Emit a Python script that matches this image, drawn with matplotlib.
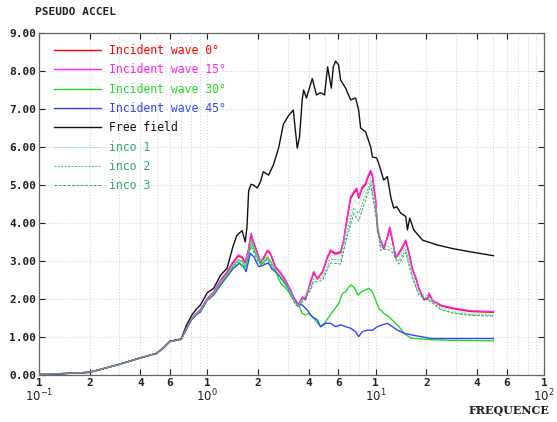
import matplotlib
matplotlib.use('Agg')
import matplotlib.pyplot as plt

# frequences (Hz) et pseudo-accelerations
f_free = [0.1, 0.13, 0.2, 0.3, 0.4, 0.5, 0.55, 0.6, 0.7, 0.75, 0.81, 0.86, 0.91, 1.0, 1.09, 1.2,
          1.31, 1.42, 1.5, 1.61, 1.68, 1.72, 1.76, 1.82, 1.88, 1.98, 2.07, 2.15, 2.31, 2.47, 2.65,
          2.83, 3.03, 3.24, 3.42, 3.53, 3.66, 3.73, 3.88, 4.20, 4.45, 4.71, 4.97, 5.18, 5.45, 5.60,
          5.78, 6.02, 6.19, 6.63, 7.10, 7.60, 7.92, 8.14, 8.71, 9.34, 9.56, 10.14, 10.42, 11.16,
          11.74, 12.28, 12.80, 13.34, 14.09, 15.09, 15.44, 15.93, 16.83, 18.96, 23.3, 29.1, 36.7, 50]
free_field = [0.02, 0.03, 0.07, 0.28, 0.45, 0.57, 0.72, 0.89, 0.95, 1.30, 1.58, 1.73, 1.84, 2.17,
              2.28, 2.63, 2.81, 3.38, 3.68, 3.80, 3.50, 3.90, 4.85, 5.02, 5.00, 4.92, 5.09, 5.35,
              5.26, 5.53, 5.97, 6.60, 6.82, 6.97, 5.97, 6.27, 7.24, 7.50, 7.29, 7.80, 7.37, 7.43,
              7.37, 8.11, 7.55, 8.11, 8.26, 8.16, 7.76, 7.55, 7.24, 7.29, 6.97, 6.50, 6.40, 6.00,
              5.74, 5.71, 5.57, 5.13, 5.22, 4.69, 4.39, 4.43, 4.26, 4.17, 3.82, 4.13, 3.82, 3.55,
              3.42, 3.32, 3.24, 3.14]

f_inc = [0.1, 0.13, 0.2, 0.3, 0.4, 0.5, 0.55, 0.6, 0.7, 0.75, 0.81, 0.86, 0.91, 1.0, 1.09, 1.2,
         1.31, 1.42, 1.53, 1.61, 1.68, 1.75, 1.82, 1.88, 1.98, 2.07, 2.15, 2.28, 2.37, 2.54, 2.72,
         2.91, 3.12, 3.34, 3.48, 3.66, 3.83, 4.10, 4.28, 4.50, 4.82, 5.16, 5.40, 5.78, 6.19, 6.45,
         6.78, 7.10, 7.40, 7.71, 7.92, 8.33, 8.71, 8.96, 9.34, 9.56, 10.0, 10.28, 10.71, 11.16,
         11.74, 12.12, 12.58, 13.15, 13.71, 14.42, 15.09, 15.65, 16.52, 17.30, 18.03, 19.31,
         20.32, 20.69, 21.76, 24.4, 29.1, 36.7, 50]
inc_15 = [0.02, 0.03, 0.07, 0.28, 0.45, 0.57, 0.72, 0.88, 0.94, 1.22, 1.50, 1.62, 1.72, 2.02,
          2.19, 2.50, 2.72, 2.98, 3.16, 3.11, 2.98, 3.29, 3.73, 3.51, 3.24, 2.98, 3.08, 3.29,
          3.21, 2.85, 2.70, 2.50, 2.24, 1.93, 1.82, 2.06, 2.00, 2.46, 2.72, 2.55, 2.72, 3.11,
          3.29, 3.21, 3.25, 3.55, 4.17, 4.69, 4.82, 4.92, 4.69, 4.96, 5.05, 5.22, 5.39, 5.26,
          4.60, 3.82, 3.55, 3.35, 3.64, 3.90, 3.55, 3.11, 3.21, 3.38, 3.55, 3.29, 2.80, 2.57,
          2.30, 2.00, 2.02, 2.16, 1.97, 1.84, 1.76, 1.69, 1.67]
inc_0 = [0.02, 0.03, 0.07, 0.28, 0.45, 0.57, 0.72, 0.88, 0.94, 1.21, 1.49, 1.61, 1.71, 2.01,
         2.17, 2.48, 2.70, 2.95, 3.13, 3.08, 2.95, 3.26, 3.68, 3.48, 3.21, 2.96, 3.05, 3.26,
         3.18, 2.83, 2.68, 2.48, 2.22, 1.92, 1.81, 2.04, 1.98, 2.43, 2.69, 2.52, 2.69, 3.08,
         3.26, 3.18, 3.22, 3.52, 4.13, 4.64, 4.78, 4.88, 4.65, 4.92, 5.01, 5.18, 5.35, 5.22,
         4.56, 3.79, 3.52, 3.32, 3.61, 3.86, 3.52, 3.08, 3.18, 3.35, 3.52, 3.26, 2.77, 2.55,
         2.28, 1.98, 2.00, 2.13, 1.95, 1.82, 1.74, 1.67, 1.65]

f_30 = [0.1, 0.13, 0.2, 0.3, 0.4, 0.5, 0.55, 0.6, 0.7, 0.75, 0.81, 0.86, 0.91, 1.0, 1.09, 1.2,
        1.31, 1.42, 1.53, 1.61, 1.68, 1.75, 1.82, 1.88, 1.98, 2.07, 2.15, 2.28, 2.37, 2.54, 2.72,
        2.98, 3.26, 3.50, 3.66, 3.83, 4.01, 4.29, 4.71, 5.04, 5.27, 5.65, 6.05, 6.34, 6.63,
        6.93, 7.17, 7.50, 7.85, 8.22, 8.71, 9.12, 9.56, 10.0, 10.46, 11.20, 12.0, 12.85, 13.76,
        14.74, 16.15, 18.53, 21.25, 29.1, 50]
inc_30 = [0.02, 0.03, 0.07, 0.28, 0.45, 0.57, 0.72, 0.88, 0.94, 1.22, 1.50, 1.60, 1.70, 2.00,
          2.13, 2.43, 2.63, 2.88, 3.03, 3.00, 2.85, 3.12, 3.58, 3.35, 3.10, 2.90, 2.95, 3.10,
          3.00, 2.75, 2.42, 2.24, 1.97, 1.84, 1.62, 1.58, 1.62, 1.49, 1.27, 1.40, 1.53, 1.71,
          1.89, 2.15, 2.19, 2.32, 2.37, 2.28, 2.10, 2.19, 2.24, 2.28, 2.19, 1.97, 1.75, 1.62,
          1.53, 1.40, 1.27, 1.10, 0.97, 0.95, 0.93, 0.91, 0.90]

f_45 = [0.1, 0.13, 0.2, 0.3, 0.4, 0.5, 0.55, 0.6, 0.7, 0.75, 0.81, 0.86, 0.91, 1.0, 1.09, 1.2,
        1.31, 1.43, 1.55, 1.64, 1.70, 1.80, 1.89, 2.02, 2.15, 2.30, 2.43, 2.60, 2.85, 3.12, 3.42,
        3.66, 3.92, 4.20, 4.50, 4.71, 5.04, 5.40, 5.78, 6.19, 6.63, 7.10, 7.60, 7.92, 8.33, 8.93,
        9.56, 10.24, 10.96, 11.74, 12.58, 13.47, 14.74, 16.52, 18.53, 21.25, 29.1, 50]
inc_45 = [0.02, 0.03, 0.07, 0.28, 0.45, 0.57, 0.72, 0.88, 0.94, 1.20, 1.47, 1.58, 1.66, 1.97,
          2.10, 2.37, 2.59, 2.81, 2.94, 2.85, 2.72, 3.20, 3.11, 2.85, 2.89, 2.95, 2.78, 2.68,
          2.46, 2.19, 1.89, 1.84, 1.71, 1.53, 1.45, 1.27, 1.36, 1.36, 1.27, 1.32, 1.27, 1.23,
          1.14, 1.01, 1.14, 1.18, 1.18, 1.27, 1.32, 1.36, 1.27, 1.18, 1.10, 1.05, 1.01, 0.96,
          0.96, 0.96]

f_inco = [0.1, 0.2, 0.3, 0.4, 0.5, 0.6, 0.7, 0.75, 0.81, 0.91, 1.0, 1.09, 1.2, 1.31, 1.42, 1.53,
          1.68, 1.82, 1.98, 2.15, 2.28, 2.54, 2.91, 3.34, 3.48, 3.66, 4.10, 4.28, 4.82, 5.40,
          6.19, 6.78, 7.40, 7.92, 8.71, 9.34, 10.0, 10.71, 11.74, 12.58, 13.71, 15.09, 16.52,
          18.03, 20.69, 24.4, 29.1, 36.7, 50]
inco_1 = [0.02, 0.07, 0.28, 0.45, 0.57, 0.88, 0.94, 1.22, 1.50, 1.70, 2.00, 2.15, 2.45, 2.65,
          2.90, 3.05, 2.88, 3.55, 3.15, 3.00, 3.15, 2.78, 2.45, 1.90, 1.82, 2.00, 2.35, 2.60,
          2.62, 3.15, 3.12, 3.95, 4.60, 4.50, 4.90, 5.20, 4.45, 3.45, 3.50, 3.40, 3.10, 3.40,
          2.70, 2.20, 2.05, 1.78, 1.68, 1.62, 1.60]
inco_2 = [0.02, 0.07, 0.28, 0.45, 0.57, 0.88, 0.94, 1.22, 1.48, 1.68, 1.98, 2.12, 2.42, 2.62,
          2.85, 3.00, 2.82, 3.45, 3.08, 2.95, 3.10, 2.74, 2.42, 1.88, 1.80, 1.95, 2.28, 2.52,
          2.55, 3.05, 3.02, 3.80, 4.40, 4.25, 4.75, 5.10, 4.30, 3.35, 3.40, 3.30, 3.00, 3.30,
          2.62, 2.15, 2.00, 1.74, 1.64, 1.59, 1.57]
inco_3 = [0.02, 0.07, 0.28, 0.45, 0.57, 0.88, 0.94, 1.22, 1.47, 1.66, 1.96, 2.10, 2.40, 2.58,
          2.82, 2.96, 2.78, 3.38, 3.02, 2.90, 3.05, 2.70, 2.38, 1.85, 1.78, 1.92, 2.22, 2.45,
          2.48, 2.95, 2.92, 3.65, 4.25, 4.05, 4.60, 5.00, 4.20, 3.28, 3.32, 3.22, 2.92, 3.22,
          2.55, 2.10, 1.96, 1.72, 1.62, 1.57, 1.55]

x_ticks = [0.1, 0.2, 0.4, 0.6, 1, 2, 4, 6, 10, 20, 40, 60, 100]
x_tick_labels = ['1', '2', '4', '6', '1', '2', '4', '6', '1', '2', '4', '6', '1']
decades = [0.1, 1, 10, 100]
decade_labels = ['$10^{-1}$', '$10^{0}$', '$10^{1}$', '$10^{2}$']
y_ticks = [0, 1, 2, 3, 4, 5, 6, 7, 8, 9]

mono = 'DejaVu Sans Mono'
plt.rcParams['font.family'] = mono

fig = plt.figure(figsize=(5.57, 4.22), dpi=100)
ax = fig.add_axes([0.070, 0.1114, 0.9067, 0.8104])

lw = 1.0
ax.plot(f_inc, inc_0, color='#ff0000', lw=lw, label='Incident wave 0°', zorder=3)
ax.plot(f_inc, inc_15, color='#ff22ee', lw=lw, label='Incident wave 15°', zorder=4)
ax.plot(f_30, inc_30, color='#22dd22', lw=lw, label='Incident wave 30°', zorder=3)
ax.plot(f_45, inc_45, color='#3344ff', lw=lw, label='Incident wave 45°', zorder=3)
ax.plot(f_free, free_field, color='#111111', lw=lw, label='Free field', zorder=3)
ax.plot(f_inco, inco_1, color='#88d8b0', lw=0.7, ls=(0, (1.2, 1.2)), label='inco 1', zorder=5)
ax.plot(f_inco, inco_2, color='#44c080', lw=0.7, ls=(0, (2, 1.5)), label='inco 2', zorder=5)
ax.plot(f_inco, inco_3, color='#33aa66', lw=0.7, ls=(0, (3, 1.5)), label='inco 3', zorder=5)

ax.set_xscale('log')
ax.set_xlim(0.1, 100)
ax.set_ylim(0, 9)

ax.set_xticks(x_ticks)
ax.set_xticklabels(x_tick_labels)
ax.xaxis.set_minor_locator(matplotlib.ticker.LogLocator(base=10, subs=[2, 3, 4, 5, 6, 7, 8, 9]))
ax.xaxis.set_minor_formatter(matplotlib.ticker.NullFormatter())
ax.set_yticks(y_ticks)
ax.set_yticklabels(['%.2f' % v for v in y_ticks])

ax.tick_params(which='major', direction='in', top=True, right=True, length=4, width=0.8,
               labelsize=8, pad=2, colors='#222222')
ax.tick_params(which='minor', length=0, top=True, right=True)
for lab in ax.get_xticklabels() + ax.get_yticklabels():
    lab.set_fontweight('bold')

ax.grid(True, which='both', axis='x', color='#d8d8d8', ls=':', lw=0.8)
ax.grid(True, which='major', axis='y', color='#d8d8d8', ls=':', lw=0.8)
ax.set_axisbelow(True)
for s in ax.spines.values():
    s.set_color('#666666')
    s.set_linewidth(0.9)

for d, lab in zip(decades, decade_labels):
    ax.text(d, -0.062, lab, transform=ax.get_xaxis_transform(), ha='center', va='center',
            fontsize=8.5, family='DejaVu Sans', color='#222222', clip_on=False)

fig.text(35 / 557, 1 - 12 / 422, 'PSEUDO ACCEL', fontsize=8, fontweight='bold', va='center',
         ha='left', color='#222222')
fig.text(509 / 557, 1 - 411 / 422, 'FREQUENCE', fontsize=8, fontweight='bold', va='center',
         ha='center', family='DejaVu Serif', color='#222222')

leg = ax.legend(loc='upper left', bbox_to_anchor=(0.03, 0.968), frameon=False, fontsize=8.3,
                handlelength=4.1, handletextpad=0.7, labelspacing=0.55, borderpad=0,
                borderaxespad=0)
legend_text_colors = ['#ff0000', '#ff22ee', '#22dd22', '#3344ff', '#111111',
                      '#33aa66', '#33aa66', '#33aa66']
for txt, c in zip(leg.get_texts(), legend_text_colors):
    txt.set_color(c)

fig.savefig('out.png', dpi=100)
